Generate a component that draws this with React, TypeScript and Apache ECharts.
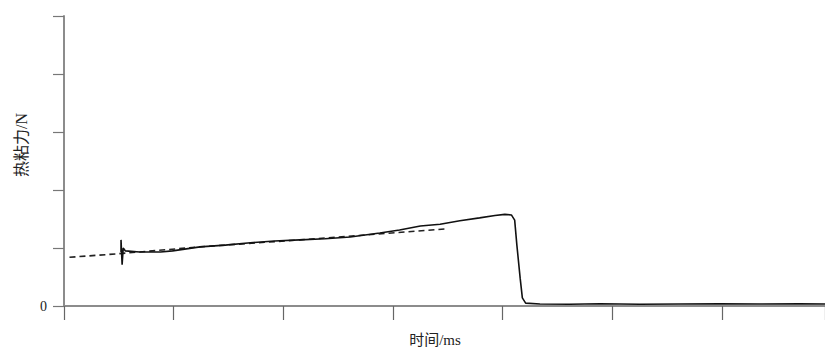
import React, { useEffect, useRef } from "react";
import * as echarts from "echarts";

// Measured curve (time in ms, force in N as tick units)
const solidTime = [52, 52, 53, 54, 56, 69, 88, 99, 110, 124, 147, 170, 192, 215, 238, 261, 288, 306, 325, 343, 361, 379, 393, 402, 408, 411, 413, 416, 418, 421, 434, 461, 489, 525, 562, 598, 634, 671, 694];
const solidForce = [0.93, 1.14, 0.71, 1.0, 0.95, 0.93, 0.93, 0.95, 0.98, 1.02, 1.05, 1.09, 1.12, 1.14, 1.16, 1.19, 1.26, 1.31, 1.38, 1.41, 1.47, 1.52, 1.56, 1.58, 1.57, 1.48, 1.05, 0.48, 0.14, 0.05, 0.035, 0.03, 0.04, 0.03, 0.035, 0.04, 0.035, 0.04, 0.035];

const fitTime = [5, 49, 124, 215, 349];
const fitForce = [0.84, 0.9, 1.02, 1.14, 1.33];

const yTickLabels = ["0"];
const xAxisTitle = "时间/ms";
const yAxisTitle = "热粘力/N";

const FONT = "'Liberation Serif', 'Noto Sans CJK SC', serif";

export default function App() {
  const ref = useRef<HTMLDivElement>(null);
  useEffect(() => {
    document.body.style.margin = "0";
    if (!ref.current) return;
    const chart = echarts.init(ref.current, null, { renderer: "svg" });
    chart.setOption({
      animation: false,
      backgroundColor: "#ffffff",
      grid: { left: 64, right: 0, top: 16, bottom: 49 },
      xAxis: {
        type: "value",
        min: 0,
        max: 694,
        interval: 100,
        axisLine: { show: true, lineStyle: { color: "#8c8c8c", width: 2 } },
        axisTick: { show: true, length: 14, lineStyle: { color: "#666", width: 1.2 } },
        axisLabel: { show: false },
        splitLine: { show: false },
      },
      yAxis: {
        type: "value",
        min: 0,
        max: 5,
        interval: 1,
        axisLine: { show: true, lineStyle: { color: "#8c8c8c", width: 2 } },
        axisTick: { show: true, length: 11, lineStyle: { color: "#777", width: 1.2 } },
        axisLabel: {
          show: true,
          margin: 17,
          fontFamily: FONT,
          fontSize: 14,
          color: "#222",
          formatter: (v: number) => (v === 0 ? yTickLabels[0] : ""),
        },
        splitLine: { show: false },
      },
      graphic: [
        {
          type: "text",
          x: 435,
          y: 340,
          style: {
            text: xAxisTitle,
            fontFamily: FONT,
            fontSize: 15,
            fill: "#222",
            align: "center",
            verticalAlign: "middle",
          },
        },
        {
          type: "text",
          x: 21,
          y: 145,
          rotation: Math.PI / 2,
          style: {
            text: yAxisTitle,
            fontFamily: FONT,
            fontSize: 16,
            fill: "#222",
            align: "center",
            verticalAlign: "middle",
          },
        },
      ],
      series: [
        {
          type: "line",
          data: fitTime.map((t, i) => [t, fitForce[i]]),
          showSymbol: false,
          lineStyle: { color: "#222", width: 1.6, type: [6, 4] },
          z: 2,
        },
        {
          type: "line",
          data: solidTime.map((t, i) => [t, solidForce[i]]),
          showSymbol: false,
          lineStyle: { color: "#111", width: 1.6 },
          z: 3,
        },
      ],
    });
    return () => chart.dispose();
  }, []);
  return <div ref={ref} style={{ width: 825, height: 355 }} />;
}
